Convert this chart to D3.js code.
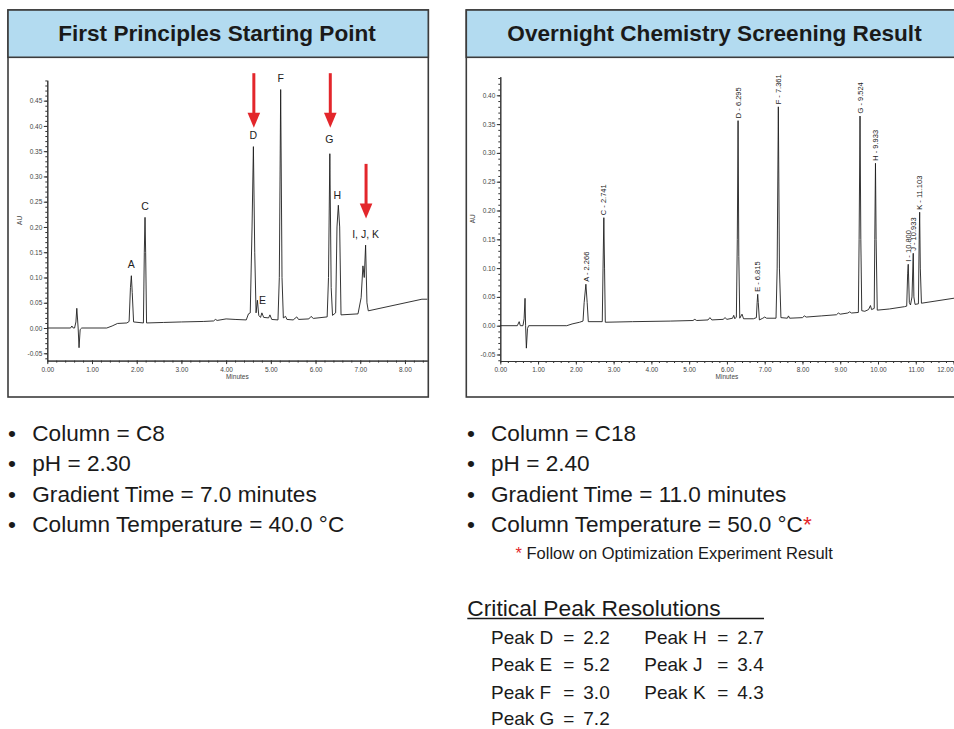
<!DOCTYPE html>
<html><head><meta charset="utf-8">
<script src="https://cdn.jsdelivr.net/npm/d3@7"></script>
<style>
html,body{margin:0;padding:0;background:#fff;}
svg{display:block;font-family:"Liberation Sans",Arial,Helvetica,sans-serif;}
</style></head>
<body><svg id="c" width="954" height="729"></svg>
<script>
// ---------- DATA ----------
const titles = ["First Principles Starting Point", "Overnight Chemistry Screening Result"];

// Left chromatogram trace: [minutes, AU]
const leftTrace = [
 [0,0],[0.52,0],[0.55,0.004],[0.58,0.0],[0.61,0.0],[0.64,0.012],[0.66,0.039],[0.69,0.0],[0.71,-0.039],[0.735,-0.003],[0.77,0.0],
 [1.33,0.0],[1.45,0.004],[1.57,0.009],[1.78,0.010],[1.83,0.013],[1.86,0.08],[1.88,0.1035],[1.90,0.07],[1.93,0.012],
 [2.15,0.010],[2.17,0.15],[2.186,0.219],[2.20,0.15],[2.22,0.010],
 [2.6,0.011],[3.0,0.012],[3.5,0.013],[3.72,0.014],[3.76,0.017],[3.80,0.015],[4.0,0.018],[4.2,0.017],[4.45,0.016],
 [4.50,0.028],[4.54,0.03],[4.58,0.2],[4.61,0.359],[4.64,0.15],[4.67,0.03],[4.70,0.055],[4.73,0.025],[4.77,0.021],
 [4.80,0.030],[4.84,0.021],[4.95,0.020],[4.98,0.026],[5.02,0.017],[5.16,0.016],[5.19,0.1],[5.22,0.472],[5.25,0.1],
 [5.28,0.02],[5.33,0.023],[5.36,0.017],[5.50,0.016],[5.58,0.022],[5.62,0.017],[5.85,0.018],[5.90,0.023],[5.95,0.019],
 [6.26,0.022],[6.29,0.1],[6.32,0.345],[6.35,0.08],[6.38,0.025],[6.45,0.03],[6.48,0.2],[6.51,0.243],[6.54,0.2],[6.57,0.026],
 [6.95,0.028],[7.02,0.06],[7.06,0.123],[7.09,0.1],[7.12,0.164],[7.15,0.05],[7.18,0.034],[8.38,0.057],[8.5,0.057]
];

// Right chromatogram trace: [minutes, AU]
const rightTrace = [
 [0,0],[0.45,0],[0.50,0.007],[0.53,0.0],[0.60,0.0],[0.63,0.012],[0.655,0.0475],[0.67,0.0],[0.69,-0.039],[0.72,-0.005],[0.75,0.0],
 [1.76,0.0],[1.9,0.003],[2.1,0.006],[2.19,0.008],[2.22,0.04],[2.266,0.072],[2.30,0.04],[2.33,0.007],
 [2.70,0.007],[2.72,0.1],[2.741,0.1875],[2.76,0.1],[2.78,0.006],
 [3.5,0.007],[4.5,0.008],[5.1,0.009],[5.15,0.011],[5.2,0.009],[5.5,0.010],[5.55,0.014],[5.6,0.010],[5.9,0.011],[5.95,0.014],
 [6.0,0.011],[6.15,0.013],[6.18,0.018],[6.21,0.012],[6.25,0.015],[6.275,0.15],[6.295,0.356],[6.315,0.12],[6.34,0.013],
 [6.40,0.020],[6.44,0.012],[6.70,0.012],[6.78,0.014],[6.80,0.04],[6.815,0.0545],[6.83,0.04],[6.86,0.010],
 [6.95,0.013],[7.0,0.015],[7.05,0.013],[7.30,0.013],[7.33,0.1],[7.361,0.380],[7.39,0.1],[7.43,0.014],
 [7.6,0.013],[7.63,0.017],[7.66,0.013],[8.0,0.014],[8.05,0.017],[8.1,0.015],[8.5,0.017],[8.9,0.019],[8.95,0.022],[9.0,0.020],
 [9.2,0.022],[9.25,0.024],[9.3,0.022],[9.48,0.023],[9.50,0.15],[9.524,0.364],[9.545,0.15],[9.57,0.026],
 [9.65,0.025],[9.75,0.028],[9.80,0.035],[9.83,0.028],[9.90,0.030],[9.915,0.15],[9.933,0.282],[9.95,0.15],[9.98,0.027],
 [10.3,0.029],[10.7,0.033],[10.76,0.034],[10.785,0.09],[10.80,0.1066],[10.83,0.04],[10.86,0.036],[10.90,0.05],
 [10.933,0.1257],[10.95,0.05],[10.98,0.037],[11.07,0.038],[11.09,0.15],[11.103,0.197],[11.12,0.1],[11.15,0.039],[12.1,0.0486]
];

// Peak labels (name, retention time, apex AU)
const leftPeaks = [
 ["A",1.88,0.1035],["C",2.186,0.219],["D",4.61,0.359],["E",4.70,0.055],["F",5.22,0.472],
 ["G",6.32,0.345],["H",6.51,0.243],["I, J, K",7.12,0.164]
];
const rightPeaks = [
 ["A - 2.266",2.266,0.072],["C - 2.741",2.741,0.1875],["D - 6.295",6.295,0.356],["E - 6.815",6.815,0.0545],
 ["F - 7.361",7.361,0.380],["G - 9.524",9.524,0.364],["H - 9.933",9.933,0.282],["I - 10.800",10.80,0.1066],
 ["J - 10.933",10.933,0.1257],["K - 11.103",11.103,0.197]
];
// Red arrows (minutes, AU of arrow tip)
const arrowTips = [[4.62,0.3965],[6.33,0.3965],[7.13,0.217]];

// Axis ticks
const leftYTicks = [-0.05,0,0.05,0.10,0.15,0.20,0.25,0.30,0.35,0.40,0.45];
const leftXTicks = [0,1,2,3,4,5,6,7,8];
const rightYTicks = [-0.05,0,0.05,0.10,0.15,0.20,0.25,0.30,0.35,0.40];
const rightXTicks = [0,1,2,3,4,5,6,7,8,9,10,11,12];

// Text blocks
const leftConditions = ["Column = C8","pH = 2.30","Gradient Time = 7.0 minutes","Column Temperature = 40.0 °C"];
const rightConditions = ["Column = C18","pH = 2.40","Gradient Time = 11.0 minutes","Column Temperature = 50.0 °C"];
const footnote = "Follow on Optimization Experiment Result";
const resolutionTitle = "Critical Peak Resolutions";
const resolutionPeaks = ["D","E","F","G","H","J","K"];
const resolutionValues = ["2.2","5.2","3.0","7.2","2.7","3.4","4.3"];

// ---------- DRAW ----------
const svg = d3.select("#c");
const RED = "#e3262b";
const FRAME = "#3c3c3c";
const W = 954;

function panel(x, w, title, cx) {
  svg.append("rect").attr("x",x).attr("y",10).attr("width",w).attr("height",387)
    .attr("fill","#fff").attr("stroke",FRAME).attr("stroke-width",1.6);
  svg.append("rect").attr("x",x).attr("y",10).attr("width",w).attr("height",47.3)
    .attr("fill","#b3dbf0").attr("stroke",FRAME).attr("stroke-width",1.6);
  svg.append("text").attr("x",cx).attr("y",41).attr("text-anchor","middle")
    .attr("font-size",22.6).attr("font-weight","bold").attr("fill","#1a1a1a").text(title);
}
panel(8, 420.3, titles[0], 217);
panel(466.3, 520, titles[1], 714.5);

const fmt = d => (d<0?"-":"") + Math.abs(d).toFixed(2);

function chart(o) {
  const x = d3.scaleLinear().domain(o.xd).range(o.xr);
  const y = d3.scaleLinear().domain(o.yd).range(o.yr);
  const g = svg.append("g");
  // minor ticks
  const yMinor = d3.range(Math.ceil(o.yd[0]*100), Math.floor(o.yd[1]*100)+1).map(v=>v/100);
  const xMinor = d3.range(0, Math.floor(o.xd[1]*5)+1).map(v=>v/5);
  g.append("g").attr("transform",`translate(${o.xr[0]},0)`)
    .call(d3.axisLeft(y).tickValues(yMinor).tickSize(2).tickSizeOuter(0).tickFormat(""))
    .call(s=>{s.select(".domain").attr("stroke","#333");s.selectAll("line").attr("stroke","#333");});
  g.append("g").attr("transform",`translate(0,${o.yr[0]})`)
    .call(d3.axisBottom(x).tickValues(xMinor).tickSize(2).tickSizeOuter(0).tickFormat(""))
    .call(s=>{s.select(".domain").attr("stroke","#333");s.selectAll("line").attr("stroke","#333");});
  const ya = g.append("g").attr("transform",`translate(${o.xr[0]},0)`)
    .call(d3.axisLeft(y).tickValues(o.yTicks).tickSize(3.5).tickSizeOuter(0).tickPadding(1.5).tickFormat(fmt));
  const xa = g.append("g").attr("transform",`translate(0,${o.yr[0]})`)
    .call(d3.axisBottom(x).tickValues(o.xTicks).tickSize(3.5).tickSizeOuter(0).tickPadding(3).tickFormat(d=>d.toFixed(2)));
  [ya,xa].forEach(a=>{
    a.select(".domain").attr("stroke","#333");
    a.selectAll("line").attr("stroke","#333");
    a.selectAll("text").attr("font-size",6.5).attr("fill","#444").attr("font-family","Liberation Sans, Arial, sans-serif");
  });
  // keep tick labels that would spill past the page edge inside it
  xa.selectAll(".tick").each(function(d){
    if (x(d) + 8 > W) d3.select(this).select("text").attr("text-anchor","end").attr("x", W - 1 - x(d));
  });
  // axis titles
  g.append("text").attr("x",(o.xr[0]+x(o.xd[1]>12?12:o.xd[1]))/2).attr("y",o.yr[0]+18).attr("text-anchor","middle")
    .attr("font-size",6.5).attr("fill","#444").text("Minutes");
  g.append("text").attr("transform",`translate(${o.xr[0]-25},${(o.yr[0]+o.yr[1])/2}) rotate(-90)`)
    .attr("text-anchor","middle").attr("font-size",6.5).attr("fill","#444").text("AU");
  // trace
  const line = d3.line().x(d=>x(d[0])).y(d=>y(d[1]));
  g.append("path").datum(o.trace).attr("d",line).attr("fill","none")
    .attr("stroke","#1e1e1e").attr("stroke-width",0.9).attr("stroke-linejoin","round");
  return {x,y,g};
}

// Left chart
const L = chart({xd:[0,8.5], xr:[47.3,427.3], yd:[-0.0645,0.4905], yr:[360.6,80.2],
  yTicks:leftYTicks, xTicks:leftXTicks, trace:leftTrace});
const leftLabelOffset = {"E":[5,4], "H":[-1,-6], "G":[-0.5,-11]};
L.g.selectAll(".pl").data(leftPeaks).join("text")
  .attr("x",d=>L.x(d[1]) + (leftLabelOffset[d[0]]?leftLabelOffset[d[0]][0]:0))
  .attr("y",d=>L.y(d[2]) + (leftLabelOffset[d[0]]?leftLabelOffset[d[0]][1]:-7.5))
  .attr("text-anchor","middle").attr("font-size",10.5).attr("fill","#222").text(d=>d[0]);
// red arrows
arrowTips.forEach(([t,a])=>{
  const ax = L.x(t), ay = L.y(a);
  L.g.append("line").attr("x1",ax).attr("x2",ax).attr("y1",ay-54.5).attr("y2",ay-12)
    .attr("stroke",RED).attr("stroke-width",3);
  L.g.append("path").attr("d",`M${ax-6.3},${ay-15} L${ax+6.3},${ay-15} L${ax},${ay} Z`).attr("fill",RED);
});

// Right chart
const R = chart({xd:[0,12.2], xr:[500.3,961.1], yd:[-0.0613,0.4323], yr:[361,76.7],
  yTicks:rightYTicks, xTicks:rightXTicks, trace:rightTrace});
R.g.selectAll(".pr").data(rightPeaks).join("text")
  .attr("transform",d=>`translate(${R.x(d[1])},${R.y(d[2])-2.5}) rotate(-90)`)
  .attr("dy","0.35em").attr("font-size",7.5).attr("fill","#222").text(d=>d[0]);

// Bulleted conditions
const FS = 22.6;
const rowsY = [440.5, 471, 501.5, 532];
leftConditions.forEach((t,i)=>{
  svg.append("text").attr("x",8).attr("y",rowsY[i]).attr("font-size",FS).attr("fill","#1a1a1a").text("•");
  svg.append("text").attr("x",32.3).attr("y",rowsY[i]).attr("font-size",FS).attr("fill","#1a1a1a").text(t);
});
rightConditions.forEach((t,i)=>{
  svg.append("text").attr("x",467).attr("y",rowsY[i]).attr("font-size",FS).attr("fill","#1a1a1a").text("•");
  const tx = svg.append("text").attr("x",491).attr("y",rowsY[i]).attr("font-size",FS).attr("fill","#1a1a1a").text(t);
  if (i===3) tx.append("tspan").attr("fill",RED).text("*");
});
const fn = svg.append("text").attr("x",515.5).attr("y",559).attr("font-size",16.5).attr("fill","#1a1a1a");
fn.append("tspan").attr("fill",RED).text("* ");
fn.append("tspan").text(footnote);

// Critical peak resolutions
svg.append("text").attr("x",467.3).attr("y",616).attr("font-size",22.8).attr("fill","#1a1a1a").text(resolutionTitle);
svg.append("line").attr("x1",467.3).attr("x2",764).attr("y1",618.6).attr("y2",618.6).attr("stroke","#1a1a1a").attr("stroke-width",1.5);
const resY = [643.5, 671.3, 699, 724.5];
resolutionPeaks.forEach((p,i)=>{
  const col = i<4 ? 0 : 1, row = i<4 ? i : i-4;
  const xs = col===0 ? [491,563.3,583.3] : [644.3,717.3,737.3];
  svg.append("text").attr("x",xs[0]).attr("y",resY[row]).attr("font-size",19).attr("fill","#1a1a1a").text("Peak " + p);
  svg.append("text").attr("x",xs[1]).attr("y",resY[row]).attr("font-size",19).attr("fill","#1a1a1a").text("=");
  svg.append("text").attr("x",xs[2]).attr("y",resY[row]).attr("font-size",19).attr("fill","#1a1a1a").text(resolutionValues[i]);
});
</script></body></html>
